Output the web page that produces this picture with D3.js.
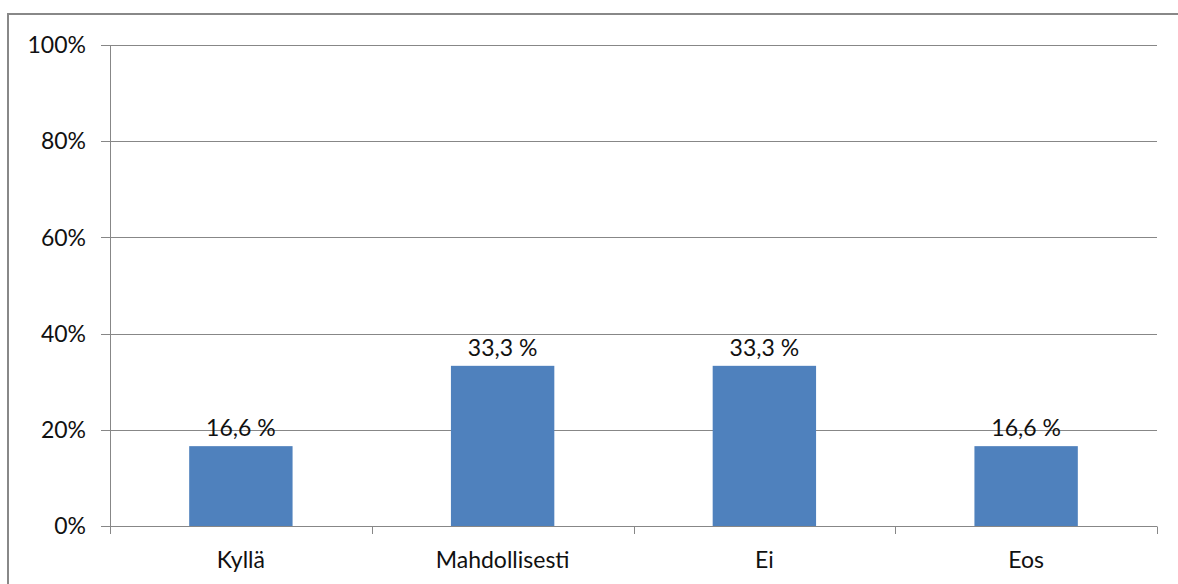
<!DOCTYPE html>
<html>
<head>
<meta charset="utf-8">
<script src="https://cdn.jsdelivr.net/npm/d3@7"></script>
<style>
  html, body { margin: 0; padding: 0; background: #fff; }
  svg { display: block; }
  text { font-family: Lato, "Open Sans", sans-serif; fill: #111; }
</style>
</head>
<body>
<svg id="chart" width="1178" height="584"></svg>
<script>
// Survey answers and their shares (%)
const categories = ["Kyllä", "Mahdollisesti", "Ei", "Eos"];
const values = [16.6, 33.3, 33.3, 16.6];
const valueLabels = ["16,6 %", "33,3 %", "33,3 %", "16,6 %"];
const yTicks = [0, 20, 40, 60, 80, 100];
const yTickLabels = ["0%", "20%", "40%", "60%", "80%", "100%"];

const svg = d3.select("#chart");
const W = 1178, H = 584;
const plot = { left: 110, right: 1157, top: 45, bottom: 526 };
const gridColor = "#878787";
const barColor = "#4F81BD";

// Outer chart frame (runs past the right and bottom edges)
svg.append("rect")
  .attr("x", 8).attr("y", 14)
  .attr("width", W + 20).attr("height", H + 20)
  .attr("fill", "#fff")
  .attr("stroke", "#888").attr("stroke-width", 2);

const y = d3.scaleLinear().domain([0, 100]).range([plot.bottom, plot.top]);

const x = d3.scaleBand()
  .domain(categories)
  .range([plot.left, plot.right])
  .paddingInner(0.605)
  .paddingOuter(0.3025);

const step = (plot.right - plot.left) / categories.length;

// Horizontal gridlines with left tick stubs
const grid = svg.append("g");
grid.selectAll("line")
  .data(yTicks)
  .join("line")
  .attr("x1", plot.left - 9)
  .attr("x2", plot.right)
  .attr("y1", d => Math.round(y(d)) + 0.5)
  .attr("y2", d => Math.round(y(d)) + 0.5)
  .attr("stroke", gridColor)
  .attr("stroke-width", 1);

// Y axis line
svg.append("line")
  .attr("x1", plot.left + 0.5).attr("x2", plot.left + 0.5)
  .attr("y1", Math.round(y(100)) + 0.5).attr("y2", Math.round(y(0)) + 0.5)
  .attr("stroke", gridColor);

// Y tick labels
svg.append("g").selectAll("text")
  .data(yTicks)
  .join("text")
  .attr("x", plot.left - 24)
  .attr("y", d => y(d))
  .attr("dy", "0.36em")
  .attr("text-anchor", "end")
  .attr("font-size", 23)
  .text((d, i) => yTickLabels[i]);

// Bars
svg.append("g").selectAll("rect")
  .data(values)
  .join("rect")
  .attr("x", (d, i) => x(categories[i]))
  .attr("width", x.bandwidth())
  .attr("y", d => y(d))
  .attr("height", d => y(0) - y(d))
  .attr("fill", barColor);

// X axis baseline over the bars
svg.append("line")
  .attr("x1", plot.left).attr("x2", plot.right)
  .attr("y1", Math.round(y(0)) + 0.5).attr("y2", Math.round(y(0)) + 0.5)
  .attr("stroke", gridColor);

// Category boundary ticks below the axis
svg.append("g").selectAll("line")
  .data(d3.range(categories.length + 1))
  .join("line")
  .attr("x1", i => Math.round(plot.left + i * step) + 0.5)
  .attr("x2", i => Math.round(plot.left + i * step) + 0.5)
  .attr("y1", Math.round(y(0)) + 0.5)
  .attr("y2", Math.round(y(0)) + 8)
  .attr("stroke", gridColor);

// Category labels
svg.append("g").selectAll("text")
  .data(categories)
  .join("text")
  .attr("x", d => x(d) + x.bandwidth() / 2)
  .attr("y", 568)
  .attr("text-anchor", "middle")
  .attr("font-size", 23)
  .text(d => d);

// Value labels above bars
svg.append("g").selectAll("text")
  .data(values)
  .join("text")
  .attr("x", (d, i) => x(categories[i]) + x.bandwidth() / 2)
  .attr("y", d => y(d) - 10)
  .attr("text-anchor", "middle")
  .attr("font-size", 23)
  .text((d, i) => valueLabels[i]);
</script>
</body>
</html>
